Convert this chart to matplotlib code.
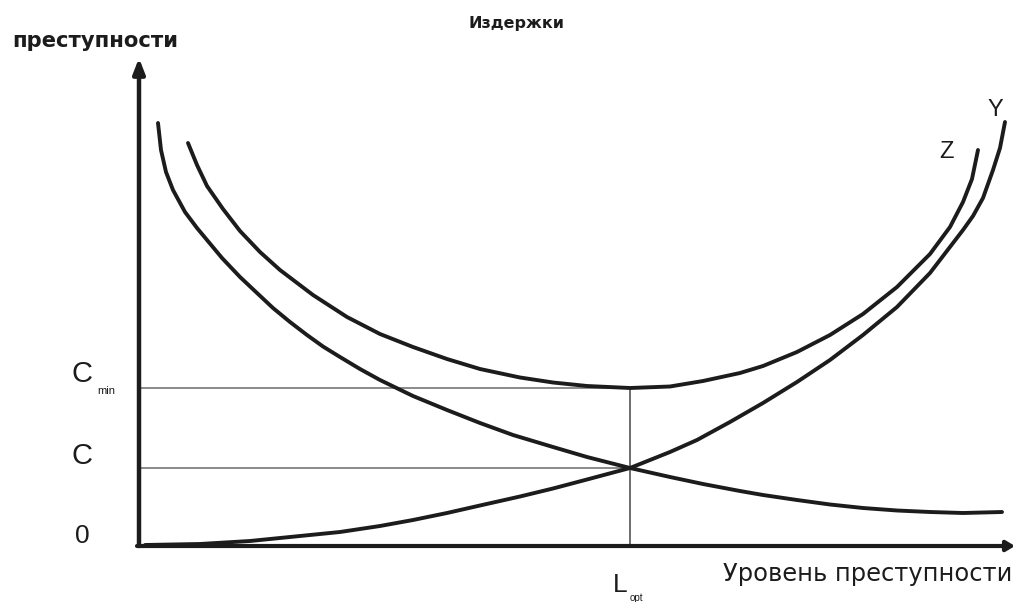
import numpy as np
import matplotlib.pyplot as plt

# crime level (x) and costs (y) for the three curves

# losses from crime, falling as the crime level rises
x_crime = [1.9, 2.2, 2.7, 3.4, 4.6, 5.8, 6.8, 8.3, 10.1, 11.8, 13.4, 15.1,
           16.8, 18.4, 20.1, 22.1, 24.1, 27.4, 30.8, 34.1, 37.4, 41.4, 44.8,
           49.1, 53.1, 56.4, 60.1, 62.4, 65.8, 69.1, 72.4, 75.8, 79.1, 82.4,
           86.3]
y_crime = [42.2, 39.5, 37.3, 35.5, 33.3, 31.7, 30.5, 28.7, 26.8, 25.2, 23.7,
           22.3, 21.0, 19.85, 18.8, 17.6, 16.5, 14.9, 13.5, 12.2, 11.0, 9.8,
           8.8, 7.7, 6.8, 6.1, 5.4, 5.0, 4.5, 4.05, 3.7, 3.45, 3.3, 3.2, 3.3]

# costs of fighting crime, growing as tolerated crime level rises (Y)
x_ctrl = [0.6, 6.1, 11.1, 16.1, 20.1, 24.1, 27.4, 30.8, 34.1, 38.1, 41.4,
          44.8, 49.1, 53.1, 55.8, 59.1, 62.4, 65.8, 69.1, 72.4, 75.8, 79.1,
          82.4, 83.4, 84.4, 85.4, 86.1, 86.6]
y_ctrl = [0.0, 0.1, 0.4, 0.9, 1.3, 1.9, 2.5, 3.2, 3.95, 4.85, 5.65, 6.55,
          7.7, 9.3, 10.5, 12.3, 14.2, 16.3, 18.5, 21.0, 23.8, 27.2, 31.5,
          32.9, 34.7, 37.5, 39.7, 42.3]

# total costs (Z)
x_total = [4.9, 5.8, 6.8, 8.4, 10.1, 12.1, 14.1, 17.4, 20.8, 24.1, 27.4,
           30.8, 34.1, 38.1, 41.4, 44.8, 49.1, 53.1, 56.4, 60.1, 62.4, 65.8,
           69.1, 72.4, 75.8, 79.1, 81.1, 82.4, 83.3, 83.9]
y_total = [40.2, 38.0, 35.9, 33.6, 31.4, 29.3, 27.5, 25.0, 22.8, 21.1, 19.8,
           18.6, 17.6, 16.75, 16.25, 15.9, 15.7, 15.85, 16.4, 17.2, 17.9,
           19.3, 21.0, 23.1, 25.8, 29.1, 31.8, 34.3, 36.6, 39.5]

L_opt = 49.1
C_min = 15.7
C_eq = 7.7

ink = '#1c1c1c'

fig = plt.figure(figsize=(10.16, 6.02), dpi=100)
ax = fig.add_axes([0, 0, 1, 1])
ax.set_xlim(-13.9, 87.7)
ax.set_ylim(-5.7, 54.5)
ax.axis('off')

# axes with arrows
ax.annotate('', xy=(0, 48.7), xytext=(0, -0.1),
            arrowprops=dict(arrowstyle='-|>,head_width=0.35,head_length=0.9',
                            lw=3.2, color=ink, shrinkA=0, shrinkB=0))
ax.annotate('', xy=(87.6, -0.1), xytext=(-0.2, -0.1),
            arrowprops=dict(arrowstyle='-|>,head_width=0.3,head_length=0.5',
                            lw=3.0, color=ink, shrinkA=0, shrinkB=0))

# guide lines
ax.plot([0, L_opt], [C_min, C_min], color='#8a8a8a', lw=1.4)
ax.plot([0, L_opt], [C_eq, C_eq], color='#8a8a8a', lw=1.4)
ax.plot([L_opt, L_opt], [-0.1, C_min], color='#6e6e6e', lw=1.4)

# curves
for xs, ys in [(x_crime, y_crime), (x_ctrl, y_ctrl), (x_total, y_total)]:
    ax.plot(xs, ys, color=ink, lw=2.8, solid_capstyle='round',
            solid_joinstyle='round')

# labels
ax.text(-12.7, 50.4, 'преступности', fontsize=15.2, fontweight='bold',
        ha='left', va='center', color=ink)
ax.text(37.8, 52.2, 'Издержки', fontsize=11.5, fontweight='bold',
        ha='center', va='center', color=ink)
ax.text(-5.7, 17.1, 'C', fontsize=21, family='Liberation Sans',
        ha='center', va='center', color=ink)
ax.text(-3.3, 15.4, 'min', fontsize=8, family='Liberation Sans',
        ha='center', va='center', color=ink)
ax.text(-5.7, 8.9, 'C', fontsize=21, family='Liberation Sans',
        ha='center', va='center', color=ink)
ax.text(-5.7, 0.9, '0', fontsize=19, family='Liberation Sans',
        ha='center', va='center', color=ink)
ax.text(48.1, -4.0, 'L', fontsize=19, family='Liberation Sans',
        ha='center', va='center', color=ink)
ax.text(49.7, -5.3, 'opt', fontsize=7, family='Liberation Sans',
        ha='center', va='center', color=ink)
ax.text(58.4, -2.9, 'Уровень преступности', fontsize=17.4,
        ha='left', va='center', color=ink)
ax.text(85.6, 43.5, 'Y', fontsize=17, family='Liberation Sans',
        ha='center', va='center', color=ink)
ax.text(80.8, 39.3, 'Z', fontsize=17, family='Liberation Sans',
        ha='center', va='center', color=ink)

fig.savefig('out.png', dpi=100, facecolor='white')
